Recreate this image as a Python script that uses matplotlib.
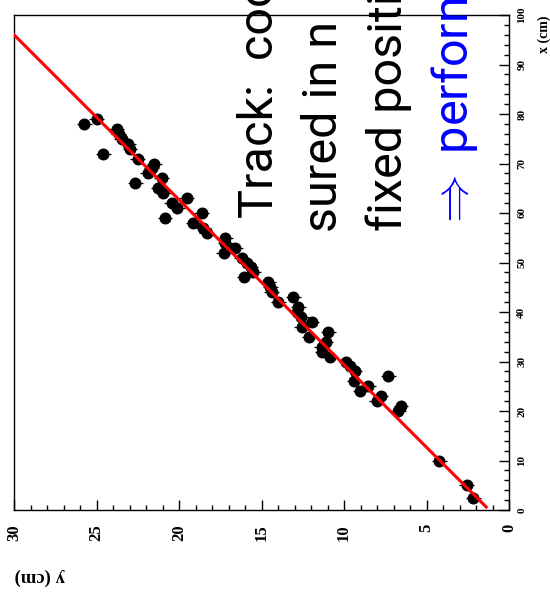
import numpy as np
import matplotlib
matplotlib.use("Agg")
import matplotlib.pyplot as plt
from matplotlib.ticker import MultipleLocator

# measured track points: plane position x (cm) and hit coordinate y (cm)
x_pos = [2.4, 5, 10, 20, 21, 22, 23, 24, 25, 26, 27, 28, 29, 30, 31, 32, 33, 34,
         35, 36, 37, 38, 39, 40, 41, 42, 43, 44, 45, 46, 47, 48, 49, 50, 51, 52,
         53, 54, 55, 56, 57, 58, 59, 60, 61, 62, 63, 64, 65, 66, 67, 68, 69, 70,
         71, 72, 73, 74, 75, 76, 77, 78, 79]
y_pos = [2.16, 2.56, 4.22, 6.71, 6.55, 8.02, 7.78, 9.03, 8.53, 9.39, 7.32, 9.33,
         9.64, 9.88, 10.85, 11.31, 11.35, 11.09, 12.1, 10.95, 12.56, 11.96, 12.6,
         12.85, 12.77, 13.98, 13.07, 14.38, 14.48, 14.59, 16.06, 15.5, 15.65, 15.85,
         16.2, 17.3, 16.6, 17.2, 17.2, 18.32, 18.53, 19.13, 20.85, 18.62, 20.1,
         20.44, 19.53, 20.95, 21.25, 22.65, 21.05, 21.9, 21.65, 21.5, 22.5, 24.59,
         22.97, 23.07, 23.47, 23.65, 23.78, 25.74, 24.99]
y_err = 0.45

# straight line fit drawn over the plot
fit_intercept = 1.2
fit_slope = 0.3
fit_range = (0.6, 100)

x_ticks = [0, 10, 20, 30, 40, 50, 60, 70, 80, 90, 100]
y_ticks = [0, 5, 10, 15, 20, 25, 30]

lines = ["Track:  coordinates mea-",
         "sured in n   planes at",
         "fixed positions",
         r"$\Rightarrow$ perform a straight line fit"]

plt.rcParams["mathtext.fontset"] = "cm"
serif = ["Liberation Serif", "DejaVu Serif"]
big_font = ["Roboto", "DejaVu Sans"]

W, H = 550, 603
fig = plt.figure(figsize=(W / 100, H / 100), dpi=100)
# the page is turned 90 degrees: horizontal axis is y (30 -> 0), vertical is x
ax = fig.add_axes([14 / W, 93 / H, 495 / W, 495 / H])

ax.errorbar(y_pos, x_pos, xerr=y_err, fmt="o", color="black", ms=7.6,
            elinewidth=0.9, capsize=0, zorder=3)

xf = np.linspace(fit_range[0], fit_range[1], 200)
ax.plot(fit_intercept + fit_slope * xf, xf, color="#ff0000", lw=2.2, zorder=4)

ax.set_xlim(30, 0)
ax.set_ylim(0, 100)
ax.set_xticks(y_ticks)
ax.set_yticks(x_ticks)
ax.xaxis.set_minor_locator(MultipleLocator(1))
ax.yaxis.set_minor_locator(MultipleLocator(2))

ax.tick_params(axis="x", which="both", direction="in", bottom=True, top=False,
               labelbottom=True, labelrotation=90, pad=10)
ax.tick_params(axis="y", which="both", direction="in", left=False, right=True,
               labelleft=False, labelright=True, labelrotation=90, pad=6)
ax.tick_params(which="major", length=7.2, width=1)
ax.tick_params(which="minor", length=3.6, width=1)
for lab in ax.get_xticklabels():
    lab.set_fontfamily(serif)
    lab.set_fontweight("bold")
    lab.set_fontsize(12)
for lab in ax.get_yticklabels():
    lab.set_fontfamily(serif)
    lab.set_fontweight("bold")
    lab.set_fontsize(8)
    lab.set_va("center")
for s in ax.spines.values():
    s.set_linewidth(1)

fig.text(544 / W, 1 - 34 / H, "x (cm)", rotation=90, ha="center", va="center",
         family=serif, weight="bold", fontsize=10)
fig.text(40 / W, 1 - 577 / H, "y (cm)", rotation=180, ha="center", va="center",
         family=serif, weight="bold", fontsize=13.5)

# slide text running over the plot (baseline x, start y in pixels)
text_pos = [(273, 218), (337, 232), (402, 231), (467, 231)]
text_col = ["black", "black", "black", "#0000ff"]
for txt, (bx, sy), c in zip(lines, text_pos, text_col):
    fig.text(bx / W, 1 - sy / H, txt, rotation=90, rotation_mode="anchor",
             ha="left", va="baseline", family=big_font, fontsize=35, color=c)

fig.savefig("out.png", dpi=100)
